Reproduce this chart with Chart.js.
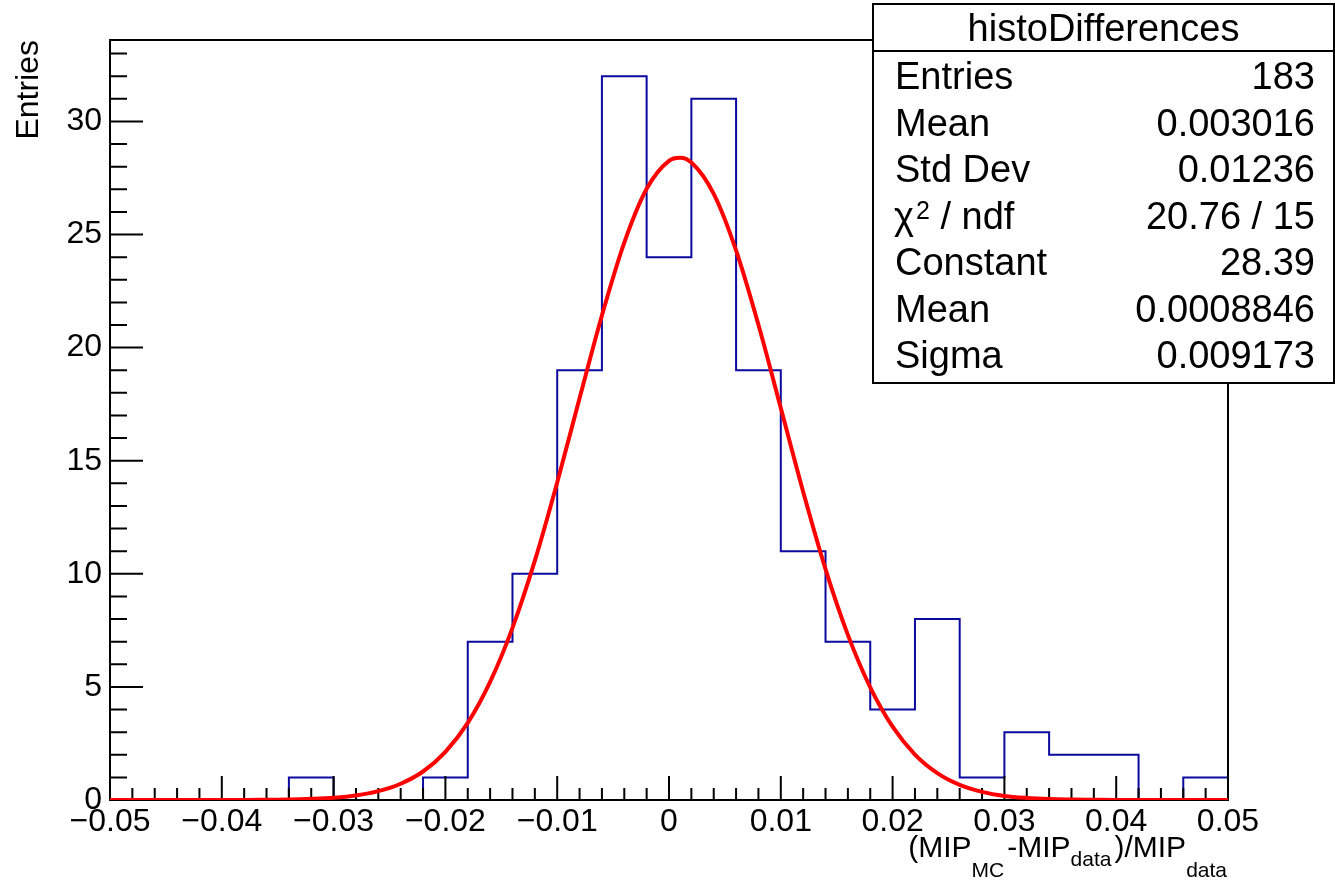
<!DOCTYPE html>
<html>
<head>
<meta charset="utf-8">
<title>histoDifferences</title>
<script src="https://cdn.jsdelivr.net/npm/chart.js@4.4.1/dist/chart.umd.min.js"></script>
<style>
  html, body { margin: 0; padding: 0; background: #fff; }
  #wrap { width: 1335px; height: 882px; position: relative; }
</style>
</head>
<body>
<div id="wrap"><canvas id="c" width="1335" height="882"></canvas></div>
<script>
"use strict";

// ── Data ────────────────────────────────────────────────────────────────
const binEdges = [-0.050, -0.046, -0.042, -0.038, -0.034, -0.030, -0.026, -0.022, -0.018,
                  -0.014, -0.010, -0.006, -0.002, 0.002, 0.006, 0.010, 0.014, 0.018,
                  0.022, 0.026, 0.030, 0.034, 0.038, 0.042, 0.046, 0.050];
const binCounts = [0, 0, 0, 0, 1, 0, 0, 1, 7, 10, 19, 32, 24, 31, 19, 11, 7, 4, 8, 1, 3, 2, 2, 0, 1];

// gaussian fit curve
const fitX = [-0.050, -0.048, -0.046, -0.044, -0.042, -0.040, -0.038, -0.036, -0.034, -0.032,
              -0.030, -0.028, -0.026, -0.024, -0.022, -0.020, -0.018, -0.016, -0.014, -0.012,
              -0.010, -0.008, -0.006, -0.004, -0.002, 0.000, 0.001, 0.002, 0.004, 0.006,
              0.008, 0.010, 0.012, 0.014, 0.016, 0.018, 0.020, 0.022, 0.024, 0.026,
              0.028, 0.030, 0.032, 0.034, 0.036, 0.038, 0.040, 0.042, 0.044, 0.046,
              0.048, 0.050];
const fitY = [0, 0, 0, 0, 0, 0, 0, 0.01, 0.02, 0.05,
              0.10, 0.20, 0.39, 0.72, 1.26, 2.13, 3.41, 5.22, 7.61, 10.58,
              14.04, 17.76, 21.42, 24.64, 27.02, 28.26, 28.39, 28.18, 26.80, 24.30,
              21.01, 17.33, 13.63, 10.21, 7.30, 4.98, 3.24, 2.01, 1.19, 0.67,
              0.36, 0.18, 0.09, 0.04, 0.02, 0.01, 0, 0, 0, 0,
              0, 0];

const xTicks = [-0.05, -0.04, -0.03, -0.02, -0.01, 0, 0.01, 0.02, 0.03, 0.04, 0.05];
const yTicks = [0, 5, 10, 15, 20, 25, 30];

const statsTitle  = "histoDifferences";
const statsLabels = ["Entries", "Mean", "Std Dev", "χ^2 / ndf", "Constant", "Mean", "Sigma"];
const statsValues = ["183", "0.003016", "0.01236", "20.76 / 15", "28.39", "0.0008846", "0.009173"];

const FONT = "'Liberation Sans', Arial, Helvetica, sans-serif";

// ── Helpers ─────────────────────────────────────────────────────────────
const fmtTick = v => {
  const r = Math.round(v * 100) / 100;
  return r === 0 ? "0" : String(r).replace("-", "\u2212");
};

function drawFrameAndTicks(chart) {
  const { ctx, chartArea: a, scales: { x, y } } = chart;
  ctx.save();
  ctx.strokeStyle = "#000";
  ctx.lineWidth = 2;
  ctx.strokeRect(a.left, a.top, a.right - a.left, a.bottom - a.top);

  ctx.beginPath();
  for (let k = -25; k <= 25; k++) {
    const px = x.getPixelForValue(k * 0.002);
    const len = k % 5 === 0 ? 24 : 12;
    ctx.moveTo(px, a.bottom);
    ctx.lineTo(px, a.bottom - len);
  }
  for (let k = 0; k <= 33; k++) {
    const py = y.getPixelForValue(k);
    const len = k % 5 === 0 ? 33 : 17;
    ctx.moveTo(a.left, py);
    ctx.lineTo(a.left + len, py);
  }
  ctx.stroke();
  ctx.restore();
}

function drawStats(ctx) {
  const L = 873, T = 4, R = 1334, B = 383;
  ctx.save();
  ctx.fillStyle = "#fff";
  ctx.fillRect(L, T, R - L, B - T);
  ctx.strokeStyle = "#000";
  ctx.lineWidth = 2;
  ctx.strokeRect(L, T, R - L, B - T);
  ctx.beginPath();
  ctx.moveTo(L, 51);
  ctx.lineTo(R, 51);
  ctx.stroke();

  ctx.fillStyle = "#000";
  ctx.textBaseline = "alphabetic";
  ctx.font = `38px ${FONT}`;
  ctx.textAlign = "center";
  ctx.fillText(statsTitle, (L + R) / 2, 41);

  statsLabels.forEach((lab, i) => {
    const base = 89 + i * 46.5;
    ctx.textAlign = "left";
    if (lab.includes("^")) {
      const [pre, rest] = lab.split("^");
      ctx.font = `38px ${FONT}`;
      ctx.fillText(pre, 894, base);
      let cx = 894 + ctx.measureText(pre).width;
      ctx.font = `25px ${FONT}`;
      ctx.fillText(rest[0], cx + 2, base - 10);
      cx += ctx.measureText(rest[0]).width + 2;
      ctx.font = `38px ${FONT}`;
      ctx.fillText(rest.slice(1), cx, base);
    } else {
      ctx.font = `38px ${FONT}`;
      ctx.fillText(lab, 895, base);
    }
    ctx.textAlign = "right";
    ctx.fillText(statsValues[i], 1315, base);
  });
  ctx.restore();
}

function drawTitles(ctx) {
  ctx.save();
  ctx.fillStyle = "#000";
  ctx.textBaseline = "alphabetic";

  // y title
  ctx.save();
  ctx.translate(38, 40);
  ctx.rotate(-Math.PI / 2);
  ctx.font = `32px ${FONT}`;
  ctx.textAlign = "right";
  ctx.fillText("Entries", 0, 0);
  ctx.restore();

  // x title with subscripts, right aligned to the frame
  const parts = [
    { t: "(MIP",  size: 30, dy: 0 },
    { t: "MC",    size: 21, dy: 20, gap: 3 },
    { t: "-MIP",  size: 30, dy: 0 },
    { t: "data",  size: 21, dy: 9, gap: 3 },
    { t: ")/MIP", size: 30, dy: 0 },
    { t: "data",  size: 21, dy: 20, gap: 0 },
  ];
  let total = 0;
  parts.forEach(p => {
    ctx.font = `${p.size}px ${FONT}`;
    p.w = ctx.measureText(p.t).width;
    total += p.w + (p.gap || 0);
  });
  let cx = 1227 - total;
  ctx.textAlign = "left";
  parts.forEach(p => {
    ctx.font = `${p.size}px ${FONT}`;
    ctx.fillText(p.t, cx, 857 + p.dy);
    cx += p.w + (p.gap || 0);
  });
  ctx.restore();
}

const rootStyle = {
  id: "rootStyle",
  afterDatasetDraw(chart, args) {
    if (args.index === 1) drawFrameAndTicks(chart);
  },
  afterDraw(chart) {
    drawStats(chart.ctx);
    drawTitles(chart.ctx);
  },
};

// ── Chart ───────────────────────────────────────────────────────────────
const histPoints = binEdges.map((e, i) => ({ x: e, y: binCounts[Math.min(i, binCounts.length - 1)] }));
const fitPoints = fitX.map((v, i) => ({ x: v, y: fitY[i] }));

new Chart(document.getElementById("c"), {
  type: "line",
  data: {
    datasets: [
      {
        label: "fit",
        data: fitPoints,
        borderColor: "#ff0000",
        borderWidth: 4,
        pointRadius: 0,
        cubicInterpolationMode: "monotone",
        fill: false,
        clip: 0,
      },
      {
        label: "histoDifferences",
        data: histPoints,
        borderColor: "#0a0aa0",
        borderWidth: 2,
        pointRadius: 0,
        stepped: "before",
        fill: false,
      },
    ],
  },
  options: {
    responsive: false,
    animation: false,
    devicePixelRatio: 1,
    layout: { padding: { top: 40, right: 107, bottom: 0, left: 0 } },
    plugins: { legend: { display: false }, tooltip: { enabled: false } },
    scales: {
      x: {
        type: "linear",
        min: -0.05,
        max: 0.05,
        grid: { display: false, drawTicks: false },
        border: { display: false },
        afterBuildTicks: s => { s.ticks = xTicks.map(v => ({ value: v })); },
        afterFit: s => { s.height = 82; },
        ticks: {
          padding: 3,
          maxRotation: 0,
          autoSkip: false,
          color: "#000",
          font: { family: FONT, size: 32 },
          callback: v => fmtTick(v),
        },
      },
      y: {
        type: "linear",
        min: 0,
        max: 33.6,
        grid: { display: false, drawTicks: false },
        border: { display: false },
        afterBuildTicks: s => { s.ticks = yTicks.map(v => ({ value: v })); },
        afterFit: s => { s.width = 110; },
        ticks: {
          padding: 8,
          autoSkip: false,
          color: "#000",
          font: { family: FONT, size: 32 },
          callback: v => String(v),
        },
      },
    },
  },
  plugins: [rootStyle],
});
</script>
</body>
</html>
